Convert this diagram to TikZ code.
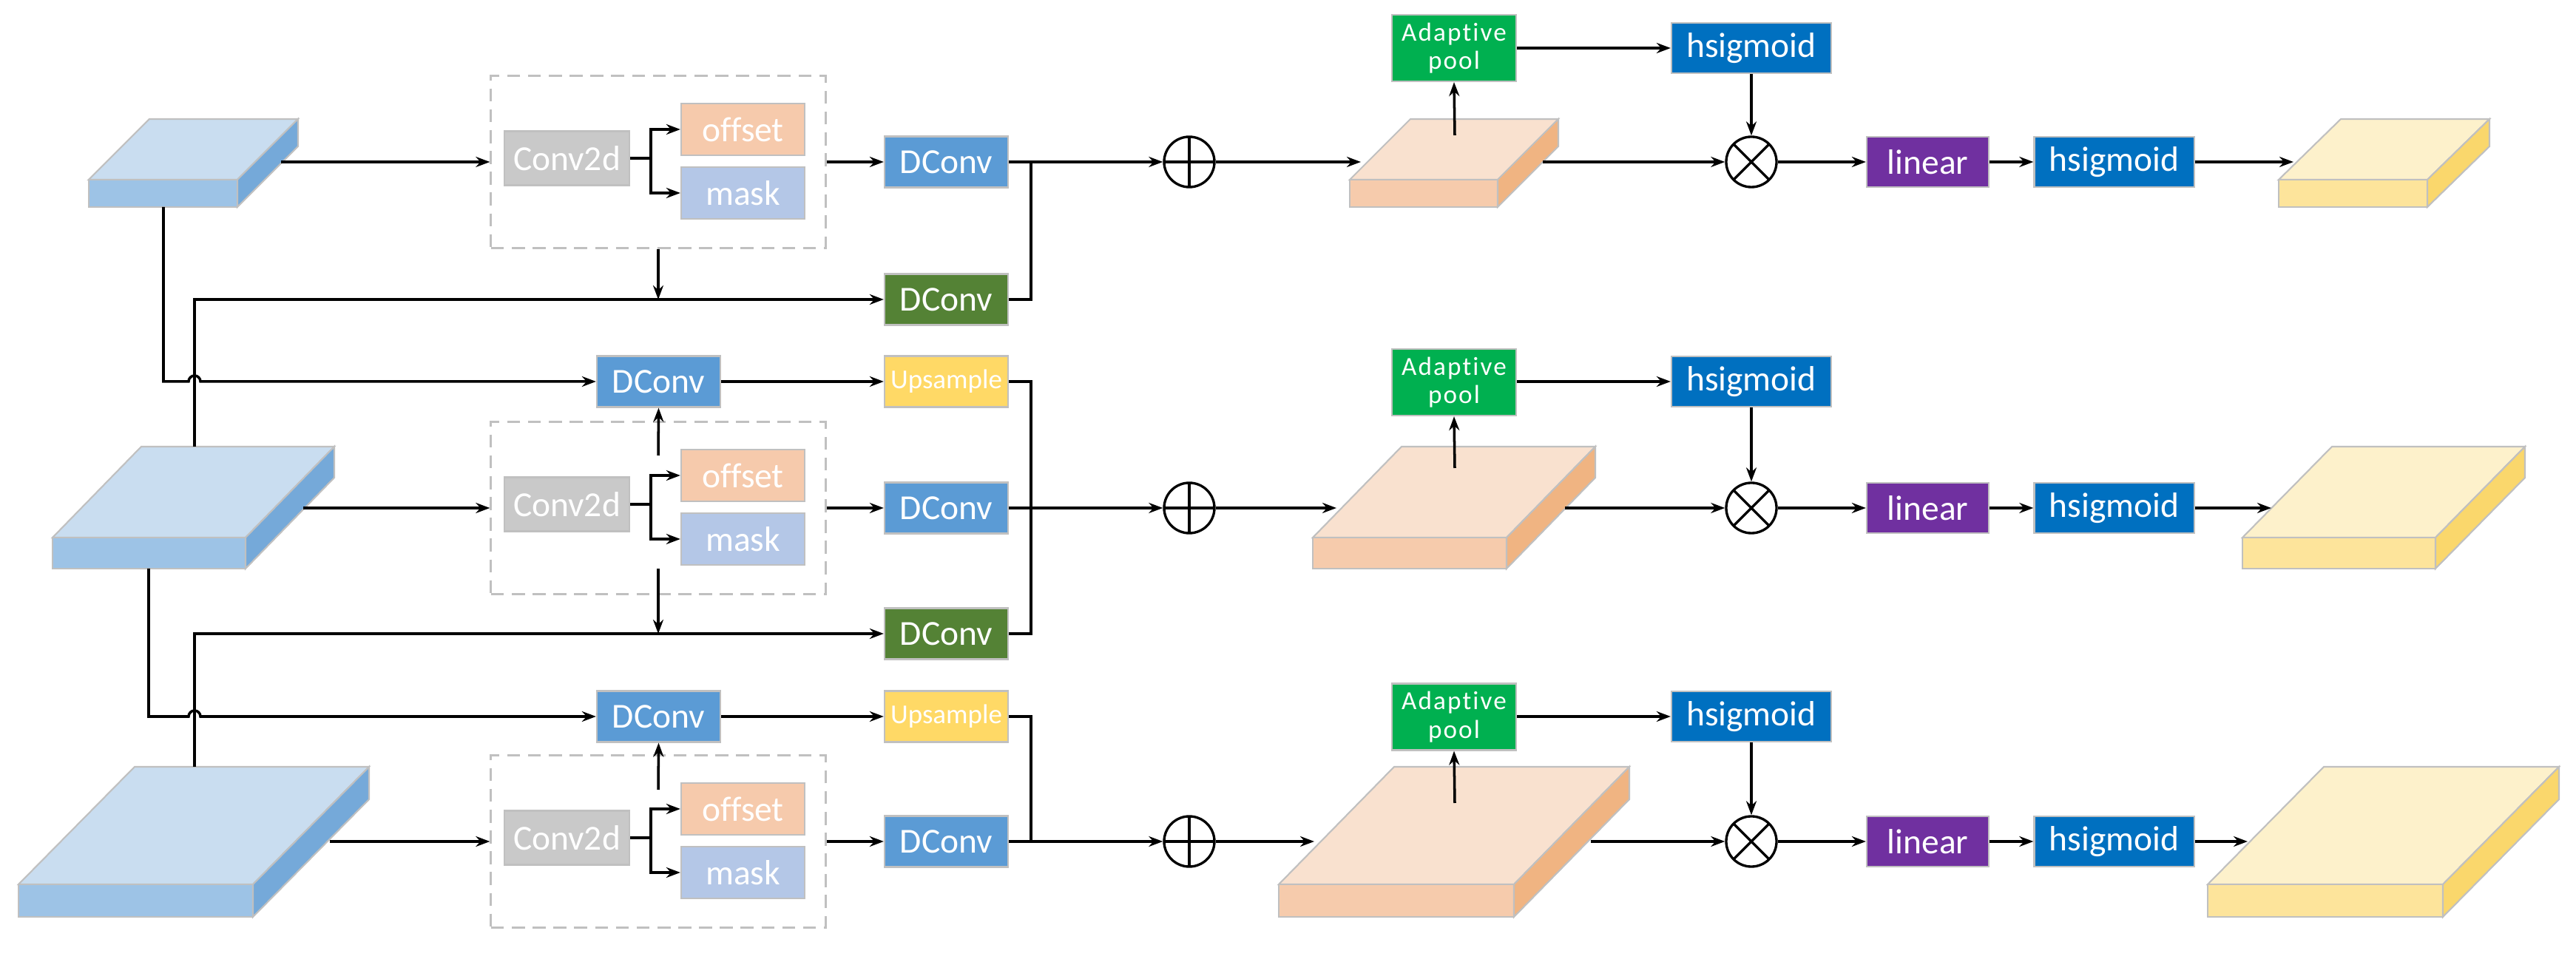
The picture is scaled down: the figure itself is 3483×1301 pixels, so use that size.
\documentclass[tikz,border=0pt]{standalone}
\usepackage{fontspec}
\setmainfont{Carlito}[Ligatures=NoCommon]
\usetikzlibrary{arrows.meta}
\definecolor{bgray}{HTML}{C0C0C0}
\definecolor{cgray}{HTML}{C9C9C9}
\definecolor{offc}{HTML}{F6CAAC}
\definecolor{maskc}{HTML}{B4C7E7}
\definecolor{dblue}{HTML}{5B9BD5}
\definecolor{dgreen}{HTML}{548235}
\definecolor{upc}{HTML}{FFD966}
\definecolor{poolc}{HTML}{00B050}
\definecolor{hsc}{HTML}{0070C0}
\definecolor{linc}{HTML}{7030A0}
\definecolor{btop}{HTML}{C9DDF0}\definecolor{bfront}{HTML}{9DC3E6}\definecolor{bside}{HTML}{75A9D9}
\definecolor{ptop}{HTML}{F9E1CF}\definecolor{pfront}{HTML}{F6CBAC}\definecolor{pside}{HTML}{F0B482}
\definecolor{ytop}{HTML}{FDF1CB}\definecolor{yfront}{HTML}{FDE49B}\definecolor{yside}{HTML}{FAD76C}
\newcommand\myslab[7]{%
  \filldraw[draw=bgray,line width=0.6pt,fill=#7top] (#1,#4)--(#2,#4)--({#2+#6},#5)--({#1+#6},#5)--cycle;
  \filldraw[draw=bgray,line width=0.6pt,fill=#7front] (#1,#4) rectangle (#2,#3);
  \filldraw[draw=bgray,line width=0.6pt,fill=#7side] (#2,#4)--({#2+#6},#5)--({#2+#6},{#5+#3-#4})--(#2,#3)--cycle;}
\begin{document}
\begin{tikzpicture}[x=0.01cm,y=-0.01cm,
  box/.style={draw=bgray,line width=0.6pt,inner sep=0pt,text=white,font=\fontsize{13.5}{13.5}\selectfont},
  conv/.style={box,fill=cgray,minimum width=1.69cm,minimum height=0.73cm},
  offs/.style={box,fill=offc,minimum width=1.67cm,minimum height=0.70cm},
  mask/.style={box,fill=maskc,minimum width=1.67cm,minimum height=0.70cm},
  dcv/.style={box,fill=dblue,minimum width=1.67cm,minimum height=0.69cm},
  gdcv/.style={box,fill=dgreen,minimum width=1.67cm,minimum height=0.69cm},
  ups/.style={box,fill=upc,minimum width=1.67cm,minimum height=0.69cm,font=\fontsize{10.5}{11}\selectfont},
  pool/.style={box,fill=poolc,minimum width=1.68cm,minimum height=0.90cm,align=center,font=\fontsize{10}{11}\selectfont\addfontfeature{LetterSpace=6}},
  hs/.style={box,fill=hsc,minimum width=2.16cm,minimum height=0.68cm},
  lin/.style={box,fill=linc,minimum width=1.65cm,minimum height=0.68cm},
  dbox/.style={draw=bgray,line width=0.85pt,dash pattern=on 5pt off 3pt,minimum width=4.52cm,minimum height=2.32cm,inner sep=0pt},
  oplus/.style={circle,draw,line width=0.95pt,minimum size=0.68cm,inner sep=0pt,path picture={\draw[line width=0.95pt] (path picture bounding box.north)--(path picture bounding box.south) (path picture bounding box.west)--(path picture bounding box.east);}},
  otimes/.style={circle,draw,line width=0.95pt,minimum size=0.68cm,inner sep=0pt,path picture={\draw[line width=0.95pt] (path picture bounding box.north west)--(path picture bounding box.south east) (path picture bounding box.south west)--(path picture bounding box.north east);}},
  ln/.style={line width=1pt},
  ar/.style={ln,-{Stealth[length=0.19cm,width=0.14cm]}}]
\useasboundingbox (0,0) rectangle (3483,1301);
% slabs
\myslab{120}{321}{280}{243}{161}{82}{b}
\myslab{71}{332}{769}{727}{604}{120}{b}
\myslab{25}{342}{1240}{1196}{1037}{157}{b}
\myslab{1825}{2025}{280}{243}{161}{82}{p}
\myslab{1775}{2037}{769}{727}{604}{120}{p}
\myslab{1729}{2047}{1240}{1196}{1037}{156}{p}
\myslab{3081}{3282}{280}{243}{161}{84}{y}
\myslab{3032}{3293}{769}{727}{604}{121}{y}
\myslab{2985}{3303}{1240}{1196}{1037}{157}{y}
\coordinate (s1o) at (380,219); \coordinate (s2o) at (410,687); \coordinate (s3o) at (446,1138);
\coordinate (s1b) at (221,280); \coordinate (s2b) at (201,769);
\coordinate (s2t) at (263,604); \coordinate (s3t) at (263,1037);
\coordinate (p1i) at (1840,219); \coordinate (p2i) at (1807,687); \coordinate (p3i) at (1777,1138);
\coordinate (p1o) at (2086,219); \coordinate (p2o) at (2116,687); \coordinate (p3o) at (2151,1138);
\coordinate (p1u) at (1967,183); \coordinate (p2u) at (1967,633); \coordinate (p3u) at (1967,1086);
\coordinate (y1i) at (3101,219); \coordinate (y2i) at (3071,687); \coordinate (y3i) at (3039,1138);
% dashed boxes and contents
\foreach \r/\i in {219/1,687/2,1138/3}{
  \node[dbox] (bx\i) at (890,\r) {};
  \node[conv] (cv\i) at (766.5,\r-5) {Conv2d};
  \node[offs] (of\i) at (1004.5,\r-44) {offset};
  \node[mask] (mk\i) at (1004.5,\r+42) {mask};
  \node[dcv] (d\i) at (1279.5,\r) {DConv};
  \node[oplus] (pl\i) at (1608,\r) {};
  \node[otimes] (tm\i) at (2368,\r) {};
  \node[lin] (li\i) at (2606.5,\r) {linear};
  \node[hs] (hb\i) at (2858.5,\r) {hsigmoid};
  \draw[ln] (cv\i.east) -- (880,\r-5);
  \draw[ar] (880,\r-5) |- (of\i.west);
  \draw[ar] (880,\r-5) |- (mk\i.west);
  \draw[ar] (bx\i.east) -- (d\i.west);
  \draw[ar] (d\i.east) -- (pl\i.west);
  \draw[ar] (tm\i) -- (li\i);
  \draw[ar] (li\i) -- (hb\i);
}
\node[gdcv] (g1) at (1279.5,405) {DConv};
\node[gdcv] (g2) at (1279.5,857) {DConv};
\node[dcv] (a2) at (890.5,516) {DConv};
\node[dcv] (a3) at (890.5,969) {DConv};
\node[ups] (u2) at (1279.5,516) {Upsample};
\node[ups] (u3) at (1279.5,969) {Upsample};
\node[pool] (po1) at (1966,65) {Adaptive\\pool};
\node[pool] (po2) at (1966,517) {Adaptive\\pool};
\node[pool] (po3) at (1966,969.5) {Adaptive\\pool};
\node[hs] (ht1) at (2368,65) {hsigmoid};
\node[hs] (ht2) at (2368,516) {hsigmoid};
\node[hs] (ht3) at (2368,969) {hsigmoid};
% inputs
\draw[ar] (s1o) -- (bx1.west|-s1o);
\draw[ar] (s2o) -- (bx2.west|-s2o);
\draw[ar] (s3o) -- (bx3.west|-s3o);
\draw[ar] (s1b) -- (221,516) -- (255,516) arc (180:360:8) -- (a2.west);
\draw[ar] (s2b) -- (201,969) -- (255,969) arc (180:360:8) -- (a3.west);
\draw[ar] (s2t) -- (263,405) -- (g1.west);
\draw[ar] (s3t) -- (263,857) -- (g2.west);
\coordinate (bd1) at (890,405); \coordinate (bd2) at (890,857);
\draw[ar] (bx1.south) -- (bd1);
\draw[ar] (890,769) -- (bd2);
\draw[ar] (890,616) -- (a2.south);
\draw[ar] (890,1068) -- (a3.south);
\draw[ar] (a2) -- (u2); \draw[ar] (a3) -- (u3);
% merges
\draw[ln] (g1.east) -| (1394,220);
\draw[ln] (u2.east) -| (1394,687);
\draw[ln] (g2.east) -| (1394,687);
\draw[ln] (u3.east) -| (1394,1138);
% right part
\foreach \i in {1,2,3}{
  \draw[ar] (pl\i.east) -- (p\i i);
  \draw[ar] (p\i u) -- (po\i.south);
  \draw[ar] (po\i.east|-ht\i) -- (ht\i.west);
  \draw[ar] (ht\i.south) -- (tm\i.north);
  \draw[ar] (p\i o) -- (tm\i.west);
  \draw[ar] (hb\i.east) -- (y\i i);
}
\end{tikzpicture}
\end{document}
